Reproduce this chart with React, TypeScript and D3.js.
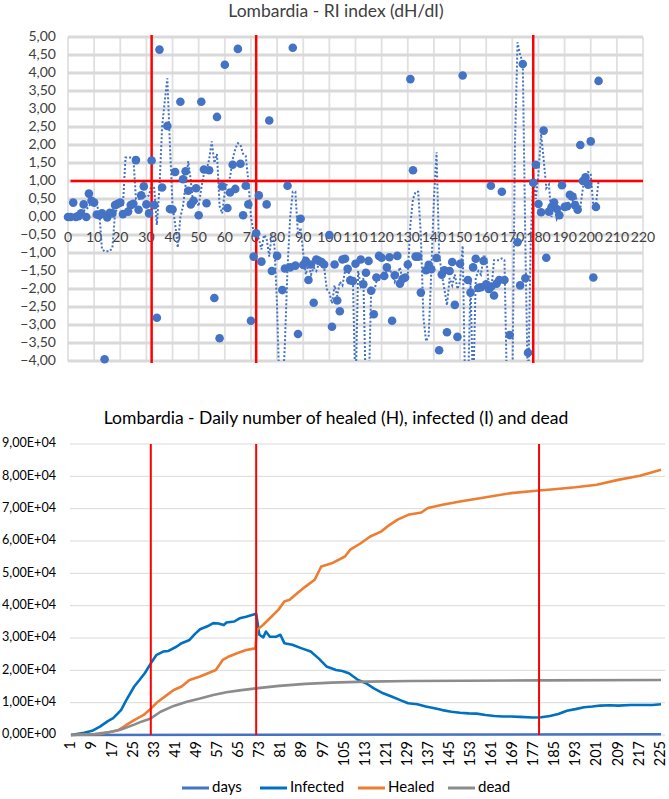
import React from 'react';
import * as d3 from 'd3';

// ---- top chart: RI index (dH/dI) per day ----
const riDays = [0, 1, 2, 3, 4, 5, 6, 7, 8, 9, 10, 11, 12, 13, 14, 15, 16, 17, 18, 19, 20, 21, 23, 24, 25, 26, 27, 28, 29, 30,
	31, 32, 33, 34, 35, 36, 38, 39, 40, 41, 43, 44, 45, 46, 47, 48, 49, 50, 51, 52, 53, 54, 56, 57, 58, 59, 60, 61,
	62, 63, 64, 65, 66, 67, 68, 69, 70, 71, 72, 73, 74, 76, 77, 78, 80, 82, 83, 84, 85, 86, 87, 88, 89, 90, 91, 92,
	93, 94, 95, 96, 97, 98, 100, 101, 102, 103, 104, 105, 106, 107, 108, 109, 110, 112, 113, 114, 115, 116, 117,
	118, 119, 120, 121, 122, 123, 124, 125, 126, 127, 128, 129, 130, 131, 132, 133, 134, 135, 137, 138, 139, 141,
	142, 143, 144, 145, 146, 147, 148, 149, 150, 151, 153, 154, 155, 156, 157, 158, 159, 160, 161, 161.8, 162, 163,
	164, 165, 166, 167, 169, 172, 173, 174, 175, 176, 178, 179, 180, 181, 182, 183, 184, 185, 186, 187, 188, 189,
	190, 191, 192, 193, 194, 195, 196, 197, 198, 199, 200, 201, 202, 203];
const riValues = [0, 0, 0.4, 0, 0.02, 0.1, 0.35, 0, 0.65, 0.45, 0.4, 0.07, 0.05, 0.1, -3.95, -0.01, 0.12, 0.1, 0.33, 0.37, 0.4, 0.08, 0.15, 0.33, 0.37, 1.58, 0.2, 0.6, 0.85, 0.35,
	0.1, 1.57, 0.33, -2.8, 4.65, 0.82, 2.53, 0.22, 0.21, 1.25, 3.2, 1.05, 1.27, 0.73, 0.35, 0.45, 0.8, 0.05, 3.2, 1.32, 0.38, 1.3, -2.25, 2.78, -3.37, 0.85, 4.23, 0.25,
	0.68, 1.45, 0.78, 4.67, 1.48, 0.05, 0.87, 0.35, -2.88, -1.1, -0.45, 0.6, -1.24, 0.35, 2.68, -1.5, -1.08, -2.03, -1.43, 0.87, -1.4, 4.7, -1.35, -3.25, -0.05, -1.33, -1.22, -1.75,
	-1.32, -2.38, -1.18, -1.22, -1.25, -1.32, -0.5, -3.05, -1.32, -2.32, -2.62, -1.18, -1.16, -1.44, -1.76, -1.78, -1.3, -1.18, -1.87, -1.55, -1.22, -2.05, -2.7,
	-1.68, -1.08, -1.13, -1.64, -1.4, -1.12, -2.88, -1.62, -1.08, -1.85, -1.72, -1.68, -1.32, 3.83, 1.3, -1.1, -1.1, -2.1, -1.48, -1.33, -1.45, -1.14,
	-3.7, -1.6, -1.48, -3.2, -1.5, -1.25, -2.44, -3.33, -1.3, 3.93, -1.75, -2.1, -1.4, -1.16, -1.97, -1.95, -1.22, -1.87, -2.0, 0.87, -1.93, -2.18,
	-1.85, -1.75, 0.7, -1.75, -3.28, -0.7, -1.9, 4.25, -1.7, -3.77, 0.95, 1.45, 0.36, 0.13, 2.4, -1.13, 0.15, 0.28, 0.4, 0.22, 0.05, 0.88,
	0.28, 0.3, 0.62, 0.57, 0.33, 0.2, 2.0, 1.0, 1.1, 0.9, 2.1, -1.68, 0.28, 3.78];

// moving-average trend (dotted); values below -4 run off the plot
const trendDays = [3, 5, 7, 9, 11, 12, 13, 14, 16, 17, 18, 19, 20, 21, 22, 25, 26, 27, 28, 29, 30, 31, 32, 33, 34, 35, 36, 37, 38, 39,
	40, 41, 42, 43, 44, 45, 46, 47, 48, 49, 50, 51, 52, 53, 54, 55, 56, 57, 58, 59, 60, 61, 62, 63, 64, 65, 66, 67, 68, 69,
	70, 71, 72, 73, 74, 75, 76, 77, 78, 79, 80, 81, 82, 83, 84, 85, 86, 87, 88, 89, 90, 91, 92, 93, 94, 95, 96, 97, 98, 99,
	100, 101, 102, 103, 104, 105, 106, 107, 108, 109, 110, 111, 112, 113, 114, 115, 116, 117, 118, 119, 120, 121, 122, 123,
	124, 125, 126, 127, 128, 129, 130, 131, 132, 133, 134, 135, 136, 137, 138, 139, 140, 141, 142, 143, 144, 145, 146, 147,
	148, 149, 150, 151, 152, 153, 154, 155, 156, 157, 158, 159, 160, 161, 162, 163, 164, 165, 166, 167, 168, 169, 170, 171,
	172, 173, 174, 175, 176, 177, 178, 179, 180, 181, 182, 183, 184, 185, 186, 187, 188, 189, 190, 191, 192, 193, 194, 195,
	196, 197, 198, 199, 200, 201, 202, 203];
const trendValues = [0.1, 0.15, 0.2, 0.4, 0.35, 0.1, -0.9, -0.95, -0.95, -0.85, 0.1, 0.25, 0.35, 0.3, 1.65, 1.65, 0.5, 0.5, 0.5, 0.6, 0.55, 0.6, 0.9, 0.8, -0.22, 0.8, 2.5, 3.2, 3.85, 2.0,
	0.3, -0.2, -0.85, 0.0, 0.3, 0.9, 1.55, 1.0, 0.3, 0.5, 0.3, 0.8, 1.2, 1.3, 1.6, 2.1, 1.5, 1.75, 0.3, 0.1, 0.7, 1.0, 1.1, 1.6, 1.9, 2.05, 2.0, 1.75, 1.7, 1.0,
	0.0, -0.4, -0.5, -0.6, -0.9, -0.5, -0.6, -1.1, -0.45, -0.8, -2.5, -5, -5, -3.5, -1.4, 0.0, 0.7, 0.7, -0.5, -0.3, -1.0, -1.6, -1.3, -1.6, -1.4, -1.5, -1.3, -1.35, -1.4, -2.0,
	-2.1, -2.4, -1.9, -2.2, -1.8, -1.9, -1.5, -1.4, -1.7, -1.7, -5, -1.5, -1.9, -1.7, -5, -5, -2.0, -2.1, -1.8, -1.75, -1.6, -1.5, -1.55, -1.45,
	-1.6, -1.8, -1.6, -1.4, -1.75, -1.8, -1.6, -0.2, 0.5, 0.7, 0.7, -0.5, -2.8, -3.45, -3.3, -1.5, 0.5, 1.8, -1.0, -1.6, -2.0, -2.45, -1.7, -1.9,
	-1.6, -2.0, -1.8, -0.8, -5, -5, -1.8, -5, -1.7, -1.5, -1.6, -1.1, -1.1, -1.9, -2.0, -1.2, -1.2, -1.2, -1.15, -1.2, -5, -5, -5, 2.0,
	4.85, 4.5, 4.3, -0.8, -5, -0.8, 1.2, 0.5, 1.2, 2.3, 1.6, 0.8, 0.9, 0.0, 0.3, -0.05, 0.1, 0.3, 0.25, 0.3, 0.5, 0.45, 0.65, 0.35,
	0.25, 0.8, 1.15, 1.25, 1.2, 0.3, 0.35, 1.0];

const riThresholdDays = [1, 220];
const riThreshold = 1;
const phaseDays = [32, 72, 178];
const riTicksY = d3.range(-4, 5.001, 0.5);
const riTicksX = d3.range(0, 221, 10);

// ---- bottom chart: daily healed, infected, dead ----
const dayRange = [1, 225];
const daysSeries = [1, 225];
const dayLabels = d3.range(1, 226, 8);
const phaseCategories = [31.3, 71.3, 178.7];
const infectedDays = [1, 6, 9, 12, 15, 17, 20, 22, 25, 27, 29, 31.5, 33.5, 36, 38, 41, 43, 46, 48, 50, 53, 55, 57, 59, 60, 63, 65, 67.5, 70, 71.3,
	72.5, 74, 75, 76.5, 79, 80.5, 82, 85, 88.6, 92, 95, 98, 101.6, 104, 106.5, 110, 113, 116, 119.5, 122.7, 126, 129, 132.5, 135.7, 139,
	142, 145.4, 148.7, 152, 155, 158.4, 161.7, 165, 168, 171.4, 176.3, 179.5, 182.8, 186, 189.3, 192.5, 195.8, 199, 202, 205.5, 208.7, 213.6,
	218.5, 221.7, 225];
const infectedValues = [0, 700, 1300, 2600, 4300, 5200, 7700, 10800, 15000, 17000, 19100, 22400, 24800, 25800, 26000, 27300, 28400, 29400, 31200, 32700, 33700, 34600, 34500, 34000, 34800, 35100, 36100, 36600, 37200, 37500,
	31000, 30200, 32000, 30400, 30400, 31000, 28400, 27900, 26800, 25800, 23700, 21200, 20100, 19800, 19100, 17000, 16000, 14400, 12900, 11900, 10800, 9800, 9500, 8800, 8300,
	7700, 7200, 6900, 6700, 6600, 6200, 5900, 5700, 5700, 5600, 5400, 5500, 5900, 6500, 7500, 8000, 8600, 8800, 9100, 9200, 9100, 9300,
	9300, 9300, 9500];
const healedDays = [1, 12, 19, 22, 25, 28.6, 31.5, 34, 37.5, 40, 43, 46, 50, 53, 56, 58.6, 61, 64, 67.5, 71, 71.6, 74, 76.5, 79.7, 82, 84, 87, 90,
	93.5, 96, 100, 105, 107, 111, 114.6, 118.7, 122, 125, 129, 134, 136.5, 142, 148.7, 156.8, 168, 178.7, 184.4, 192.5, 200.6, 208.7, 217, 225];
const healedValues = [0, 300, 1500, 3100, 4600, 6200, 8300, 10300, 12400, 13900, 15000, 17000, 18100, 19100, 20100, 23200, 24300, 25300, 26300, 26800, 32500, 34100, 36100, 38700, 41300, 41800, 43900, 45900,
	48000, 52100, 53100, 55200, 57300, 59300, 61400, 62900, 65000, 66600, 68100, 68800, 70200, 71200, 72200, 73300, 74800, 75600, 76000, 76600, 77400, 78900, 80200, 82000];
const deadDays = [1, 10, 15, 20, 25, 28, 31, 35, 40, 45, 50, 55, 60, 65, 72, 80, 90, 100, 113, 130, 150, 180, 225];
const deadValues = [0, 300, 800, 1700, 3200, 4200, 5000, 7200, 9000, 10300, 11300, 12400, 13200, 13800, 14500, 15200, 15800, 16200, 16500, 16700, 16800, 16900, 17000];
const countTicks = d3.range(0, 90001, 10000);

const fontFamily = "Lato, 'Open Sans', sans-serif";
const textColor = '#404040';

function fmtRI (v: number) {
	return d3.format('.2f')(v).replace('.', ',');
}

function fmtCount (v: number) {
	const exp = v === 0 ? 0 : Math.floor(Math.log10(v));
	const mant = v === 0 ? 0 : v / Math.pow(10, exp);
	return mant.toFixed(2).replace('.', ',') + 'E+' + String(exp).padStart(2, '0');
}

function RIChart () {
	const x = d3.scaleLinear().domain([0, 220]).range([68, 643]);
	const y = d3.scaleLinear().domain([-4, 5]).range([361, 37]);
	const trend = d3.line<number>()
		.x((d, i) => x(trendDays[i]))
		.y(d => y(d));

	return (
		<g>
			<text x={336} y={13} textAnchor="middle" dominantBaseline="middle" fontSize={17.5} fill={textColor}>
				Lombardia - RI index (dH/dI)
			</text>
			<clipPath id="riClip">
				<rect x={x(0)} y={y(5)} width={x(220) - x(0)} height={y(-4) - y(5)} />
			</clipPath>
			{riTicksX.map(t => (
				<line key={'vx' + t} x1={x(t)} x2={x(t)} y1={y(5)} y2={y(-4)} stroke="#e0e0e0" strokeWidth={1.8} />
			))}
			{riTicksY.map(t => (
				<line key={'hy' + t} x1={x(0)} x2={x(220)} y1={y(t)} y2={y(t)} stroke="#d9d9d9" strokeWidth={3} />
			))}
			{riTicksY.map(t => (
				<text key={'ly' + t} x={56} y={y(t)} textAnchor="end" dominantBaseline="middle" fontSize={14} fill={textColor}>
					{fmtRI(t)}
				</text>
			))}
			{riTicksX.map(t => (
				<text key={'lx' + t} x={x(t)} y={238} textAnchor="middle" dominantBaseline="middle" fontSize={14} fill={textColor}>
					{t}
				</text>
			))}
			<path d={trend(trendValues) || ''} fill="none" stroke="#4472C4" strokeWidth={2} strokeDasharray="2 2" clipPath="url(#riClip)" />
			<line x1={x(riThresholdDays[0])} x2={x(riThresholdDays[1])} y1={y(riThreshold)} y2={y(riThreshold)} stroke="#ff0000" strokeWidth={2.5} />
			{phaseDays.map(d => (
				<line key={'p' + d} x1={x(d)} x2={x(d)} y1={y(5) - 2} y2={y(-4) + 2} stroke="#ff0000" strokeWidth={2.5} />
			))}
			{riDays.map((d, i) => (
				<circle key={'c' + i} cx={x(d)} cy={y(riValues[i])} r={4.3} fill="#4472C4" />
			))}
		</g>
	);
}

function CountChart () {
	const x = d3.scaleLinear().domain(dayRange).range([71, 661]);
	const y = d3.scaleLinear().domain([0, 90000]).range([735, 444]);
	const line = (days: number[]) => d3.line<number>()
		.x((d, i) => x(days[i]))
		.y(d => y(d));

	const series = [
		{ name: 'days', color: '#4472C4', days: daysSeries, values: daysSeries },
		{ name: 'Infected', color: '#0070C0', days: infectedDays, values: infectedValues },
		{ name: 'Healed', color: '#ED7D31', days: healedDays, values: healedValues },
		{ name: 'dead', color: '#8C8C8C', days: deadDays, values: deadValues }
	];
	const legendX = [182, 260, 358, 448];

	return (
		<g>
			<text x={336} y={420} textAnchor="middle" dominantBaseline="middle" fontSize={17.5} fill="#000">
				Lombardia - Daily number of healed (H), infected (I) and dead
			</text>
			{countTicks.map(t => (
				<line key={'g' + t} x1={70} x2={665} y1={y(t)} y2={y(t)} stroke="#d9d9d9" strokeWidth={1} />
			))}
			{countTicks.map(t => (
				<text key={'t' + t} x={56} y={y(t)} textAnchor="end" dominantBaseline="middle" fontSize={12.6} fill="#000">
					{fmtCount(t)}
				</text>
			))}
			{dayLabels.map(d => (
				<text key={'d' + d} transform={`translate(${x(d)},741) rotate(-90)`} textAnchor="end" dominantBaseline="middle" fontSize={14.5} fill="#000">
					{d}
				</text>
			))}
			{series.map(s => (
				<path key={s.name} d={line(s.days)(s.values) || ''} fill="none" stroke={s.color} strokeWidth={2.6} strokeLinejoin="round" />
			))}
			{phaseCategories.map(d => (
				<line key={'r' + d} x1={x(d)} x2={x(d)} y1={y(90000)} y2={y(0)} stroke="#ff0000" strokeWidth={2} />
			))}
			{series.map((s, i) => (
				<g key={'lg' + s.name} transform={`translate(${legendX[i]},788)`}>
					<line x1={0} x2={27} y1={0} y2={0} stroke={s.color} strokeWidth={3} />
					<text x={30} y={0} dominantBaseline="middle" fontSize={15} fill="#000">{s.name}</text>
				</g>
			))}
		</g>
	);
}

export default function App () {
	return (
		<div style={{ position: 'absolute', left: 0, top: 0 }}>
			<svg width={669} height={799} style={{ display: 'block', background: '#fff', fontFamily }}>
				<RIChart />
				<CountChart />
			</svg>
		</div>
	);
}
